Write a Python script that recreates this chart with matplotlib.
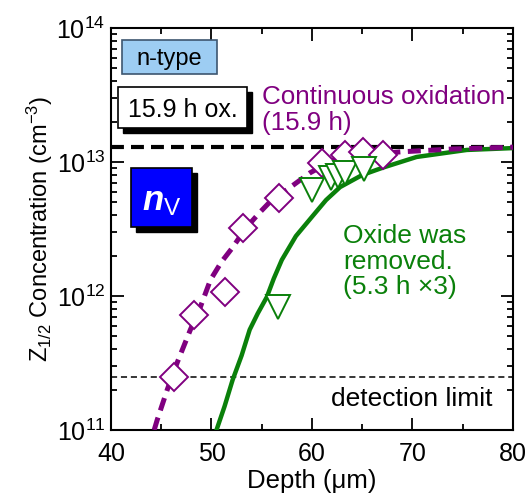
import matplotlib
matplotlib.use("Agg")
import matplotlib.pyplot as plt
from matplotlib.patches import Rectangle
from matplotlib.ticker import LogLocator, MultipleLocator
import numpy as np

plt.rcParams['font.family'] = ['Liberation Sans', 'DejaVu Sans']
plt.rcParams['mathtext.fontset'] = 'custom'
plt.rcParams['mathtext.rm'] = 'Liberation Sans'
plt.rcParams['mathtext.it'] = 'Liberation Sans:italic'
plt.rcParams['mathtext.bf'] = 'Liberation Sans:bold:italic'

# measured points, continuous oxidation (15.9 h)
cont_depth = [46.3, 48.3, 51.3, 53.1, 56.7, 61.0, 63.3, 65.1, 67.1]
cont_conc = [2.5e11, 7.2e11, 1.07e12, 3.2e12, 5.4e12, 9.8e12, 1.13e13, 1.19e13, 1.13e13]

# measured points, oxide removed (5.3 h x3)
rem_depth = [56.6, 60.0, 61.9, 62.6, 63.3, 65.2]
rem_conc = [8.3e11, 6.2e12, 7.6e12, 7.9e12, 8.3e12, 8.9e12]

# simulated profiles
sim_cont_depth = [44.3, 44.6, 45.6, 46.6, 47.9, 48.9, 49.9, 51.0, 52.1, 53.4, 54.8, 56.1, 57.5,
                  59.8, 62.1, 65.0, 68.8, 74.0, 80.0]
sim_cont_conc = [1.0e11, 1.19e11, 2.0e11, 3.2e11, 5.6e11, 8.3e11, 1.32e12, 1.8e12, 2.3e12, 3.2e12,
                 4.2e12, 5.3e12, 6.2e12, 8.3e12, 1.03e13, 1.13e13, 1.19e13, 1.25e13, 1.29e13]
sim_rem_depth = [50.5, 51.3, 52.1, 53.0, 53.8, 54.6, 55.5, 56.2, 57.0, 58.4, 60.0, 61.4, 62.8,
                 65.0, 67.1, 70.4, 75.4, 80.0]
sim_rem_conc = [1.0e11, 1.5e11, 2.36e11, 3.6e11, 5.6e11, 7.4e11, 9.8e11, 1.35e12, 1.86e12, 2.8e12,
                3.9e12, 5.2e12, 6.5e12, 8.0e12, 9.1e12, 1.09e13, 1.23e13, 1.27e13]

bulk_level = 1.3e13
detection_level = 2.5e11

purple = '#800080'
green = '#0a800a'

fig = plt.figure(figsize=(5.27, 4.94), dpi=100)
ax = fig.add_axes([0.2106, 0.1296, 0.7628, 0.8137])

ax.axhline(bulk_level, color='black', lw=3.0, dashes=(3.1, 1.7), zorder=2)
ax.axhline(detection_level, color='black', lw=1.1, dashes=(4, 2.5), zorder=2)

ax.plot(sim_rem_depth, sim_rem_conc, color=green, lw=3.2, zorder=3)
ax.plot(sim_cont_depth, sim_cont_conc, color=purple, lw=3.6, dashes=(2.6, 1.5), zorder=3)

ax.plot(cont_depth, cont_conc, ls='none', marker='D', ms=14.5, mfc='white', mec=purple, mew=1.4, zorder=4)
ax.plot(rem_depth, rem_conc, ls='none', marker='v', ms=17.5, mfc='white', mec=green, mew=1.4, zorder=5)

ax.set_xlim(40, 80)
ax.set_ylim(1e11, 1e14)
ax.set_yscale('log')
ax.xaxis.set_major_locator(MultipleLocator(10))
ax.xaxis.set_minor_locator(MultipleLocator(5))
ax.yaxis.set_major_locator(LogLocator(base=10, numticks=10))
ax.yaxis.set_minor_locator(LogLocator(base=10, subs=np.arange(2, 10), numticks=10))
ax.tick_params(which='both', direction='in', top=True, right=True, labelsize=18, width=1.3)
ax.tick_params(which='major', length=9, pad=4)
ax.tick_params(axis='x', which='major', pad=8.5)
ax.tick_params(which='minor', length=4.5)
for sp in ax.spines.values():
    sp.set_linewidth(1.5)

ax.set_xlabel('Depth (\u03bcm)', fontsize=18.5, labelpad=2)
ax.set_ylabel('Z$_{1/2}$ Concentration (cm$^{-3}$)', fontsize=17, labelpad=1)


# boxed labels in axes fractions; shadow drawn as an offset black rectangle
def boxed(x0, y0, w, h, s, fc, ec, color, size, with_shadow):
    if with_shadow:
        ax.add_patch(Rectangle((x0 + 0.012, y0 - 0.012), w, h, transform=ax.transAxes,
                               fc='black', ec='black', lw=1, zorder=6))
    ax.add_patch(Rectangle((x0, y0), w, h, transform=ax.transAxes, fc=fc, ec=ec, lw=1.2, zorder=7))
    ax.text(x0 + w / 2, y0 + h / 2, s, transform=ax.transAxes, ha='center', va='center_baseline',
            fontsize=size, color=color, zorder=8)


boxed(0.027, 0.886, 0.236, 0.085, 'n-type', '#9dcdf3', '#3d5670', 'black', 17, False)
boxed(0.0174, 0.751, 0.322, 0.102, '15.9 h ox.', 'white', 'black', 'black', 18, True)
boxed(0.0498, 0.505, 0.152, 0.147, r'$\mathbf{n}$$_{\mathrm{V}}$', '#0000ff', 'black', 'white', 25, True)

ax.text(0.376, 0.858, 'Continuous oxidation\n(15.9 h)', transform=ax.transAxes, color=purple,
        fontsize=18.7, ha='left', va='top', linespacing=1.1)
ax.text(0.578, 0.512, 'Oxide was\nremoved.\n(5.3 h \u00d73)', transform=ax.transAxes, color=green,
        fontsize=19, ha='left', va='top', linespacing=1.08)
ax.text(0.950, 0.078, 'detection limit', transform=ax.transAxes, color='black',
        fontsize=19, ha='right', va='center')

fig.savefig('out.png', dpi=100)
